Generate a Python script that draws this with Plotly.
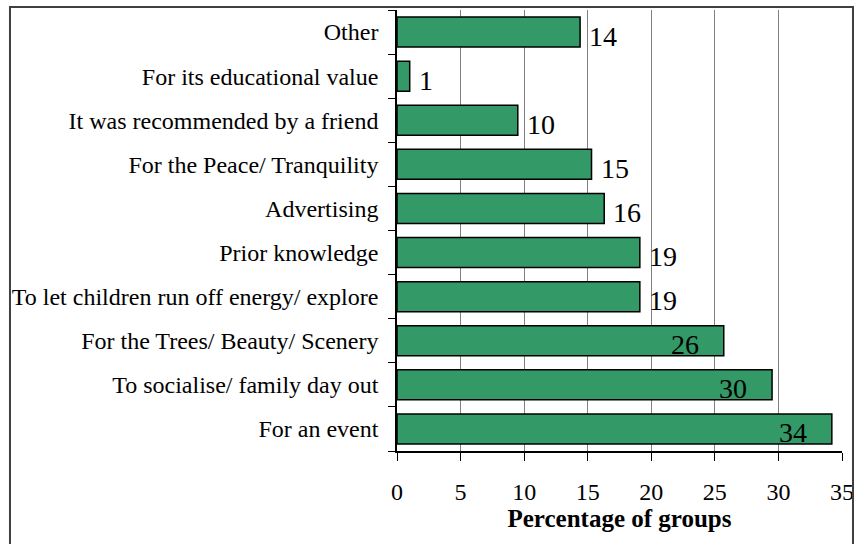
import plotly.graph_objects as go

# categories listed bottom to top
reasons = [
    "For an event",
    "To socialise/ family day out",
    "For the Trees/ Beauty/ Scenery",
    "To let children run off energy/ explore",
    "Prior knowledge",
    "Advertising",
    "For the Peace/ Tranquility",
    "It was recommended by a friend",
    "For its educational value",
    "Other",
]
pct = [34.2, 29.5, 25.7, 19.1, 19.1, 16.3, 15.3, 9.5, 1.0, 14.4]
x_ticks = [0, 5, 10, 15, 20, 25, 30, 35]

FONT = "Liberation Serif, Times New Roman, serif"

fig = go.Figure()
fig.add_trace(go.Bar(
    y=reasons, x=pct, orientation="h",
    marker=dict(color="#339966", line=dict(color="black", width=1.5)),
    hoverinfo="x+y",
))

# value labels: inside at the end for long bars, outside otherwise
for r, v in zip(reasons, pct):
    inside = v > 25
    fig.add_annotation(
        x=v, y=r, text=str(round(v)), showarrow=False,
        xanchor="right" if inside else "left",
        xshift=-23 if inside else 7, yshift=-4,
        font=dict(family=FONT, size=28, color="black"),
    )

# outer frame around the whole chart
fig.add_shape(type="rect", xref="paper", yref="paper",
              x0=-0.8697, x1=1.0247, y0=-0.25, y1=1.0068,
              line=dict(color="#404040", width=2), layer="above")

fig.update_layout(
    width=857, height=544,
    margin=dict(l=397, r=15, t=10, b=93),
    paper_bgcolor="white", plot_bgcolor="white",
    bargap=0.32, showlegend=False,
    font=dict(family=FONT, size=24, color="black"),
)
fig.update_xaxes(
    range=[0, 35], tickvals=x_ticks, ticks="outside", ticklen=8,
    tickcolor="black", showline=True, linecolor="black", linewidth=1.5,
    showgrid=True, gridcolor="#808080", gridwidth=1, zeroline=False,
    ticklabelstandoff=10, automargin=False,
    title=dict(text="<b>Percentage of groups</b>", font=dict(size=25), standoff=0),
)
fig.update_yaxes(
    ticks="outside", tickson="boundaries", ticklen=7, tickcolor="black",
    showline=True, linecolor="black", linewidth=1.5, ticklabelstandoff=12,
    showgrid=False, automargin=False,
)

# drop the default body margin so the figure fills the window exactly
fig.write_html("out.html", config={"displayModeBar": False},
               post_script="document.body.style.margin='0';")
